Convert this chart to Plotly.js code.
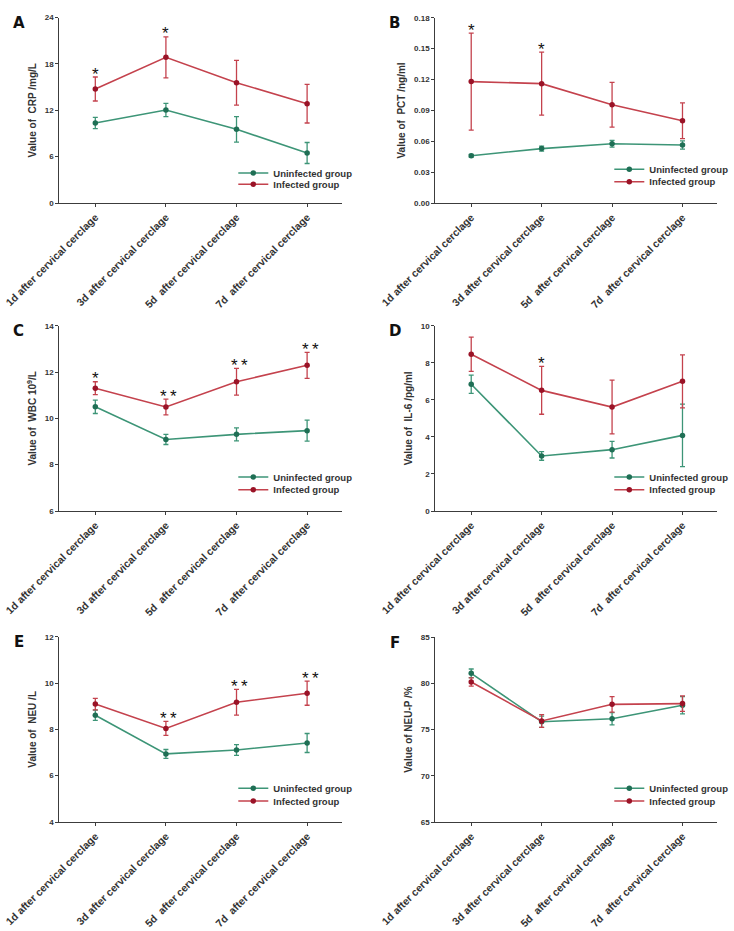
<!DOCTYPE html>
<html>
<head>
<meta charset="utf-8">
<script src="https://cdn.plot.ly/plotly-3.0.1.min.js"></script>
<style>
  html, body { margin: 0; padding: 0; background: #ffffff; }
  #chart { width: 734px; height: 931px; }
</style>
</head>
<body>
<div id="chart"></div>
<script>
// Time points after cervical cerclage
const days = [
  '1d after cervical cerclage',
  '3d after cervical cerclage',
  '5d\u00a0 after cervical cerclage',
  '7d\u00a0 after cervical cerclage'
];
const groupNames = ['Uninfected group', 'Infected group'];

// A: CRP (mg/L)
const crpUninf    = [10.35, 12.03, 9.53, 6.47];
const crpUninfErr = [0.74, 0.85, 1.65, 1.36];
const crpInf      = [14.75, 18.85, 15.56, 12.85];
const crpInfErr   = [1.55, 2.65, 2.90, 2.50];
const crpStars    = ['*', '*', '', ''];

// B: PCT (ng/ml)
const pctUninf    = [0.0461, 0.0530, 0.0577, 0.0565];
const pctUninfErr = [0.0013, 0.0024, 0.0033, 0.0040];
const pctInf      = [0.1180, 0.1160, 0.0955, 0.0800];
const pctInfErr   = [0.0470, 0.0305, 0.0217, 0.0173];
const pctStars    = ['*', '*', '', ''];

// C: WBC (10^9/L)
const wbcUninf    = [10.50, 9.09, 9.31, 9.47];
const wbcUninfErr = [0.29, 0.22, 0.28, 0.45];
const wbcInf      = [11.30, 10.49, 11.58, 12.29];
const wbcInfErr   = [0.28, 0.34, 0.58, 0.56];
const wbcStars    = ['*', '**', '**', '**'];

// D: IL-6 (pg/ml)
const il6Uninf    = [6.84, 2.97, 3.31, 4.08];
const il6UninfErr = [0.49, 0.23, 0.45, 1.69];
const il6Inf      = [8.46, 6.51, 5.61, 7.00];
const il6InfErr   = [0.92, 1.29, 1.45, 1.43];
const il6Stars    = ['', '*', '', ''];

// E: NEU (/L)
const neuUninf    = [8.61, 6.94, 7.11, 7.41];
const neuUninfErr = [0.22, 0.19, 0.23, 0.41];
const neuInf      = [9.09, 8.04, 9.17, 9.56];
const neuInfErr   = [0.25, 0.30, 0.56, 0.52];
const neuStars    = ['', '**', '**', '**'];

// F: NEU-P (%)
const neupUninf    = [81.07, 75.84, 76.17, 77.62];
const neupUninfErr = [0.47, 0.60, 0.66, 0.94];
const neupInf      = [80.14, 75.92, 77.72, 77.80];
const neupInfErr   = [0.45, 0.69, 0.84, 0.83];
const neupStars    = ['', '', '', ''];

// Colours
const greenLine = '#3d9577', greenDot = '#1f6f55';
const redLine = '#c4424d', redDot = '#9a1327';
const axisColor = '#3c3c3c', textColor = '#333333';
const FONT = 'Liberation Sans, Arial, sans-serif';

const W = 734, H = 931;
// Panel frames in pixels: [left, right, top, bottom]
const frames = [
  [59.3, 341.7, 17.5, 203.0],
  [435.3, 717.0, 17.7, 203.2],
  [59.3, 341.7, 325.7, 511.0],
  [435.3, 717.0, 325.7, 511.0],
  [59.3, 341.7, 636.7, 822.0],
  [435.3, 717.0, 637.0, 822.0]
];
// Legend row centres, measured up from each panel's bottom edge
const legendRows = [
  [30.0, 18.7],
  [33.9, 21.5],
  [34.0, 21.3],
  [34.0, 21.3],
  [33.7, 21.0],
  [33.7, 21.0]
];

const panels = [
  { letter: 'A', title: 'Value of  CRP /mg/L', range: [0, 24], dtick: 6, fmt: '',
    u: crpUninf, ue: crpUninfErr, i: crpInf, ie: crpInfErr, stars: crpStars },
  { letter: 'B', title: 'Value of  PCT /ng/ml', range: [0, 0.18], dtick: 0.03, fmt: '.2f',
    u: pctUninf, ue: pctUninfErr, i: pctInf, ie: pctInfErr, stars: pctStars },
  { letter: 'C', title: 'Value of  WBC 10<sup>9</sup>/L', range: [6, 14], dtick: 2, fmt: '',
    u: wbcUninf, ue: wbcUninfErr, i: wbcInf, ie: wbcInfErr, stars: wbcStars },
  { letter: 'D', title: 'Value of  IL-6 /pg/ml', range: [0, 10], dtick: 2, fmt: '',
    u: il6Uninf, ue: il6UninfErr, i: il6Inf, ie: il6InfErr, stars: il6Stars },
  { letter: 'E', title: 'Value of  NEU /L', range: [4, 12], dtick: 2, fmt: '',
    u: neuUninf, ue: neuUninfErr, i: neuInf, ie: neuInfErr, stars: neuStars },
  { letter: 'F', title: 'Value of NEU-P /%', range: [65, 85], dtick: 5, fmt: '',
    u: neupUninf, ue: neupUninfErr, i: neupInf, ie: neupInfErr, stars: neupStars }
];

const traces = [];
const layout = {
  width: W, height: H,
  margin: { l: 0, r: 0, t: 0, b: 0 },
  paper_bgcolor: '#ffffff', plot_bgcolor: '#ffffff',
  font: { family: FONT, color: textColor },
  annotations: [],
  showlegend: true
};

panels.forEach((p, k) => {
  const n = k + 1;
  const xa = n === 1 ? 'x' : 'x' + n;
  const ya = n === 1 ? 'y' : 'y' + n;
  const [l, r, t, b] = frames[k];

  const series = [
    { name: groupNames[0], y: p.u, err: p.ue, line: greenLine, dot: greenDot },
    { name: groupNames[1], y: p.i, err: p.ie, line: redLine, dot: redDot }
  ];
  series.forEach((s, si) => {
    // one legend box per entry so the rows can sit close together
    const idx = 2 * k + si + 1;
    const legendId = idx === 1 ? 'legend' : 'legend' + idx;
    traces.push({
      type: 'scatter', mode: 'lines+markers',
      x: days, y: s.y, name: s.name,
      xaxis: xa, yaxis: ya, legend: legendId,
      line: { color: s.line, width: 1.6 },
      marker: { color: s.dot, size: 5.5, symbol: 'circle' },
      error_y: { type: 'data', array: s.err, visible: true,
                 color: s.line, thickness: 1.3, width: 2.5 },
      cliponaxis: false
    });
    layout[legendId] = {
      x: (l + 174) / W, xanchor: 'left',
      y: 1 - (b - legendRows[k][si]) / H, yanchor: 'middle',
      bgcolor: 'rgba(0,0,0,0)', borderwidth: 0,
      itemwidth: 30, tracegroupgap: 0,
      font: { family: FONT, size: 9.5, color: textColor, weight: 'bold' }
    };
  });

  layout['xaxis' + (n === 1 ? '' : n)] = {
    domain: [l / W, r / W], anchor: ya,
    type: 'category', range: [-0.51, 3.49],
    showline: true, linecolor: axisColor, linewidth: 1,
    ticks: 'outside', ticklen: 3, tickcolor: axisColor, tickwidth: 1,
    showgrid: false, zeroline: false,
    tickangle: -45,
    tickfont: { family: FONT, size: 10.5, color: textColor, weight: 'bold' },
    fixedrange: true
  };
  layout['yaxis' + (n === 1 ? '' : n)] = {
    domain: [1 - b / H, 1 - t / H], anchor: xa,
    range: p.range, dtick: p.dtick, tick0: 0, tickformat: p.fmt,
    showline: true, linecolor: axisColor, linewidth: 1,
    ticks: 'outside', ticklen: 3, tickcolor: axisColor, tickwidth: 1,
    showgrid: false, zeroline: false,
    tickfont: { family: FONT, size: 8, color: textColor, weight: 'bold' },
    title: { text: p.title, standoff: 6,
             font: { family: FONT, size: 10, color: textColor, weight: 'bold' } },
    fixedrange: true
  };

  // Panel letter
  layout.annotations.push({
    xref: 'paper', yref: 'paper',
    x: (l - 40.5) / W, y: 1 - (t + 5.5) / H,
    xanchor: 'center', yanchor: 'middle', showarrow: false,
    text: p.letter,
    font: { family: 'DejaVu Sans, sans-serif', size: 15, color: '#111111', weight: 'bold' }
  });

  // Significance marks above the infected group's upper whisker
  p.stars.forEach((s, j) => {
    if (!s) return;
    layout.annotations.push({
      xref: xa, yref: ya, x: j, y: p.i[j] + p.ie[j],
      xanchor: 'center', yanchor: 'middle', yshift: 3,
      xshift: s.length > 1 ? 3 : 0,
      showarrow: false,
      text: s.split('').join('\u2009'),
      font: { family: FONT, size: 17, color: '#111111' }
    });
  });
});

Plotly.newPlot('chart', traces, layout, { displayModeBar: false, staticPlot: true });
</script>
</body>
</html>
